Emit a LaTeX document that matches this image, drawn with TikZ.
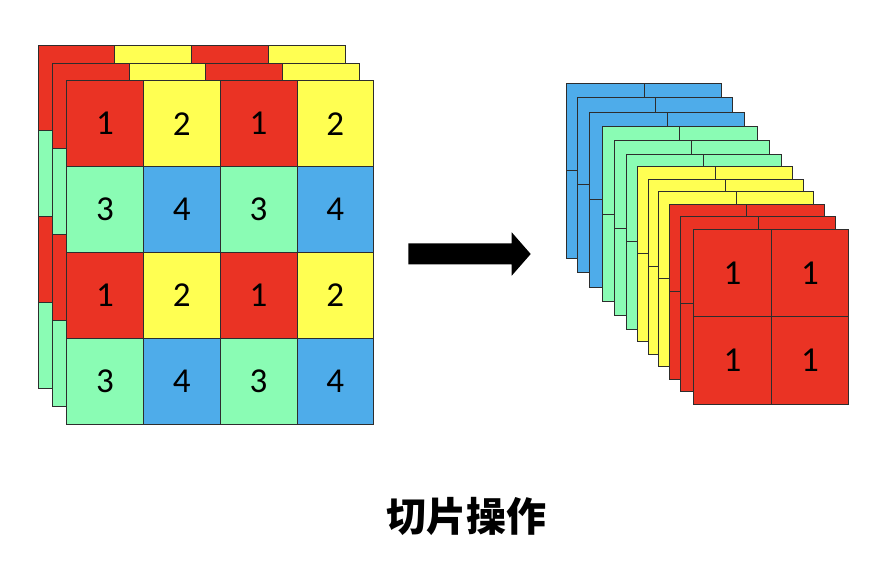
\documentclass[tikz,border=0pt]{standalone}
\usepackage{fontspec}
\setmainfont{Carlito}
\newfontfamily\cjk{Noto Sans CJK SC}
\definecolor{c1}{RGB}{234,51,36}
\definecolor{c2}{RGB}{255,255,82}
\definecolor{c3}{RGB}{138,252,180}
\definecolor{c4}{RGB}{78,172,234}
\definecolor{edge}{RGB}{45,45,45}
\begin{document}
\begin{tikzpicture}[x=1pt,y=-1pt,
  cellbox/.style={draw=edge, line width=0.9pt, inner sep=0pt, outer sep=0pt, anchor=north west,
    font=\fontsize{35}{35}\selectfont},
  lcell/.style={cellbox, minimum width=76.75pt, minimum height=85.9pt},
  rcell/.style={cellbox, minimum width=77.5pt, minimum height=87.5pt}]
\useasboundingbox (0,0) rectangle (880,566);
% left stack, back layers
\foreach \ox/\oy/\L in {38/45/a, 52.3/63/b} {
  \foreach \r in {0,...,3} {
    \foreach \c in {0,...,3} {
      \pgfmathtruncatemacro\n{1+mod(\c,2)+2*mod(\r,2)}
      \node[lcell, fill=c\n] (L\L-\r-\c) at (\ox+\c*76.75, \oy+\r*85.9) {};
    }
  }
}
% left stack, front layer
\foreach \r in {0,...,3} {
  \foreach \c in {0,...,3} {
    \pgfmathtruncatemacro\n{1+mod(\c,2)+2*mod(\r,2)}
    \node[lcell, fill=c\n] (Lc-\r-\c) at (66.7+\c*76.75, 80.7+\r*85.9) {\n};
  }
}
% arrow
\fill[black] (408.3,243.3) -- (511.7,243.3) -- (511.7,232.3) -- (530.7,254) -- (511.7,275.7) -- (511.7,264.3) -- (408.3,264.3) -- cycle;
% right stack, back layers
\foreach \ox/\oy/\col [count=\i] in {566.7/83/c4, 577.7/97.3/c4, 589.7/112/c4, 602.3/126.7/c3, 614.3/140.7/c3, 626/154/c3, 637.7/166/c2, 648.3/179.3/c2, 658.7/191.3/c2, 669.3/204/c1, 680.7/216.3/c1} {
  \foreach \r in {0,1} {
    \foreach \c in {0,1} {
      \node[rcell, fill=\col] (R\i-\r-\c) at (\ox+\c*77.5, \oy+\r*87.5) {};
    }
  }
}
% right stack, front layer
\foreach \r in {0,1} {
  \foreach \c in {0,1} {
    \node[rcell, fill=c1] (R12-\r-\c) at (693.7+\c*77.5, 229+\r*87.5) {1};
  }
}
\node[font=\cjk\bfseries\fontsize{40}{40}\selectfont, inner sep=0pt] (title) at (466.5,516) {切片操作};
\end{tikzpicture}
\end{document}
